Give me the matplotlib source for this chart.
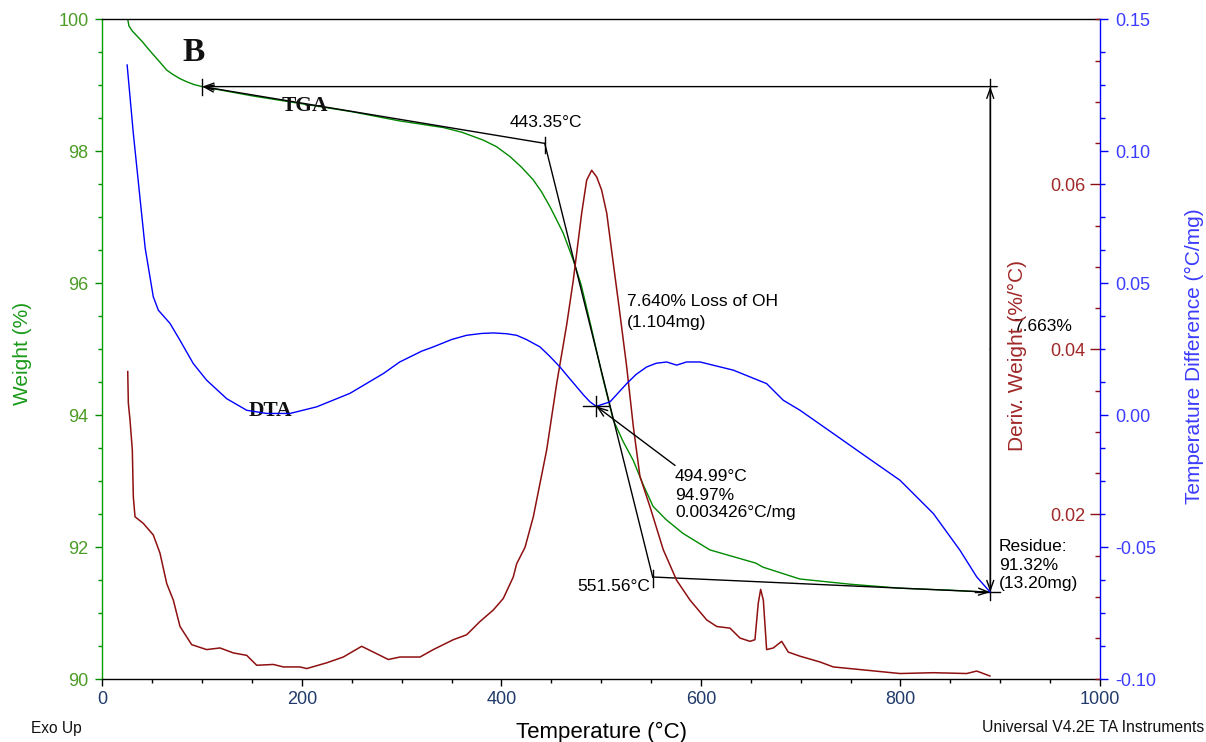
import matplotlib
matplotlib.use("Agg")
import matplotlib.pyplot as plt
from matplotlib.ticker import MultipleLocator, FixedLocator, FormatStrFormatter

# ---- TGA: weight (%) vs temperature (°C)
tga_temp = [25.3, 26.5, 30, 35, 40, 44.3, 50, 57, 64.4, 70, 77.7, 85, 92, 100,
            150, 200, 250, 298, 341.6, 360, 381.6, 395, 408.5, 420, 431.7, 440,
            448.6, 455, 461.9, 472, 480, 490, 501, 512, 522, 532, 542, 552,
            565, 582, 609, 632, 655, 662, 699, 750, 800, 850, 888]
tga_weight = [100.0, 99.90, 99.82, 99.74, 99.66, 99.58, 99.48, 99.36, 99.23,
              99.17, 99.10, 99.05, 99.01, 98.98, 98.84, 98.72, 98.60, 98.46,
              98.36, 98.29, 98.17, 98.07, 97.92, 97.76, 97.57, 97.39, 97.16,
              96.97, 96.76, 96.35, 95.97, 95.33, 94.60, 93.93, 93.60, 93.32,
              92.95, 92.62, 92.42, 92.21, 91.96, 91.86, 91.76, 91.70, 91.52,
              91.44, 91.38, 91.35, 91.32]

# ---- DTA: temperature difference (°C/mg)
dta_temp = [24.7, 30.9, 37.8, 42.8, 50.9, 56, 67.7, 77.7, 91, 104.4, 124.5,
            144.6, 164.6, 188, 214.7, 248, 281.5, 298, 320, 331.6, 350, 365,
            380, 391.8, 405, 415.2, 425, 438.6, 448, 458.6, 467, 475.3, 482,
            488.7, 495, 508.8, 525.5, 535, 545.5, 555, 565.6, 575.6, 585.6,
            599, 632.4, 665.8, 682.5, 699.3, 732.6, 766.1, 799.5, 832.9, 859.6,
            876.4, 889.7]
dta_diff = [0.1327, 0.1068, 0.0815, 0.0633, 0.0449, 0.0398, 0.0348, 0.0284,
            0.0196, 0.0133, 0.0063, 0.0019, 0.0007, 0.0007, 0.0032, 0.0083,
            0.0158, 0.0202, 0.0243, 0.0259, 0.0287, 0.0303, 0.0310, 0.0312,
            0.0309, 0.0303, 0.0287, 0.0259, 0.0225, 0.0183, 0.0145, 0.0108,
            0.0078, 0.0051, 0.0034, 0.0051, 0.0120, 0.0155, 0.0183, 0.0197,
            0.0202, 0.0190, 0.0202, 0.0202, 0.0171, 0.0120, 0.0057, 0.0019,
            -0.0069, -0.0158, -0.0246, -0.0372, -0.0511, -0.0612, -0.0669]

# ---- DTG: derivative weight (%/°C)
dtg_temp = [25.3, 25.9, 27.6, 29.9, 30.9, 32.6, 40.9, 50.9, 57.6, 64.4, 71,
            77.7, 89.4, 104.4, 117.8, 131.1, 144.6, 154.6, 171.2, 181.3, 198,
            204.7, 224.8, 241.4, 259.8, 274.9, 286.5, 298.2, 318.3, 331.6,
            351.7, 365.1, 378.4, 391.8, 401.8, 411.8, 415.2, 423.6, 431.9,
            445.3, 455.4, 465.4, 472, 480.4, 485.4, 490.4, 495.4, 500.4, 505.5,
            512.1, 518, 525.5, 532.2, 538.8, 548.9, 562.2, 575.6, 589, 605.7,
            615.8, 629.1, 639.1, 649.1, 654.1, 657.4, 659.8, 662.5, 665.8,
            672.5, 680.9, 687.5, 699.3, 719.3, 732.6, 766.1, 799.5, 832.9,
            866.4, 876.4, 889.7]
dtg_deriv = [0.0373, 0.0335, 0.0314, 0.0278, 0.0221, 0.0197, 0.0189, 0.0175,
             0.0153, 0.0116, 0.0096, 0.0064, 0.0042, 0.0036, 0.0038, 0.0032,
             0.0029, 0.0017, 0.0018, 0.0015, 0.0015, 0.0013, 0.0020, 0.0027,
             0.0040, 0.0031, 0.0024, 0.0027, 0.0027, 0.0036, 0.0048, 0.0054,
             0.0070, 0.0084, 0.0098, 0.0124, 0.0140, 0.0160, 0.0197, 0.0278,
             0.0359, 0.0430, 0.0484, 0.0565, 0.0605, 0.0617, 0.0609, 0.0593,
             0.0565, 0.0504, 0.0450, 0.0379, 0.0306, 0.0246, 0.0209, 0.0157,
             0.0120, 0.0096, 0.0072, 0.0064, 0.0062, 0.0050, 0.0046, 0.0048,
             0.0092, 0.0109, 0.0096, 0.0036, 0.0038, 0.0046, 0.0033, 0.0028,
             0.0021, 0.0015, 0.0011, 0.0007, 0.0008, 0.0007, 0.0010, 0.0004]

# ---- analysis results
onset_temp, onset_weight = 443.35, 98.12
end_temp, end_weight = 551.56, 91.55
start_temp, start_weight = 100.0, 98.98
residue_temp, residue_weight = 890.0, 91.32
dta_mark_temp, dta_mark_value = 494.99, 0.003426

plt.rcParams["font.family"] = ["Liberation Sans", "DejaVu Sans"]
plt.rcParams["axes.unicode_minus"] = False

GREEN = "#008a00"
GREEN_TXT = "#4c9c28"
RED = "#8e1010"
RED_TXT = "#a02828"
BLUE = "#0000ff"
BLUE_TXT = "#3c3cff"
XTXT = "#203a6a"

fig = plt.figure(figsize=(12.06, 7.42), dpi=100)
ax = fig.add_axes([0.08499, 0.0845, 0.8271, 0.8895])
ax2 = ax.twinx()
ax3 = ax.twinx()

# weight axis
ax.plot(tga_temp, tga_weight, color=GREEN, lw=1.0)
ax.set_xlim(0, 1000)
ax.set_ylim(90, 100)
ax.xaxis.set_major_locator(MultipleLocator(200))
ax.xaxis.set_minor_locator(MultipleLocator(50))
ax.yaxis.set_major_locator(MultipleLocator(2))
ax.yaxis.set_minor_locator(MultipleLocator(0.5))
ax.tick_params(axis="x", which="major", direction="out", length=5, width=1,
               color="black", labelcolor=XTXT, labelsize=13, pad=3.5)
ax.tick_params(axis="x", which="minor", direction="out", length=3, width=1,
               color="black")
ax.tick_params(axis="y", which="major", direction="out", length=5, width=1,
               color=GREEN, labelcolor=GREEN_TXT, labelsize=13, pad=5)
ax.tick_params(axis="y", which="minor", direction="out", length=3, width=1,
               color=GREEN)
for s in ("top", "bottom"):
    ax.spines[s].set_color("black")
    ax.spines[s].set_linewidth(1.0)
ax.spines["left"].set_color("#00a000")
ax.spines["left"].set_linewidth(1.0)
ax.spines["right"].set_visible(False)
ax.set_xlabel("Temperature (°C)", fontsize=16, color="black", labelpad=10)
ax.set_ylabel("Weight (%)", fontsize=15, color="#1a9a1a")
ax.yaxis.set_label_coords(-0.071, 0.494)

# derivative weight axis (labels inside the plot, along the right edge)
ax2.plot(dtg_temp, dtg_deriv, color=RED, lw=1.1)
ax2.set_ylim(0, 0.08)
ax2.yaxis.tick_left()
ax2.yaxis.set_label_position("left")
for s in ax2.spines.values():
    s.set_visible(False)
ax2.spines["left"].set_position(("axes", 1.0))
ax2.yaxis.set_major_locator(FixedLocator([0.02, 0.04, 0.06]))
ax2.yaxis.set_minor_locator(MultipleLocator(0.005))
ax2.yaxis.set_major_formatter(FormatStrFormatter("%.2f"))
ax2.tick_params(axis="y", which="major", direction="out", length=7, width=1,
                color=RED, labelcolor=RED_TXT, labelsize=13, pad=3.6)
ax2.tick_params(axis="y", which="minor", direction="out", length=3.6,
                width=1, color=RED)
ax2.set_ylabel("Deriv. Weight (%/°C)", fontsize=15, color=RED_TXT)
ax2.yaxis.set_label_coords(0.927, 0.491)

# temperature difference axis
ax3.plot(dta_temp, dta_diff, color=BLUE, lw=1.0)
ax3.set_ylim(-0.10, 0.15)
for s in ("top", "bottom", "left"):
    ax3.spines[s].set_visible(False)
ax3.spines["right"].set_color(BLUE)
ax3.spines["right"].set_linewidth(1.0)
ax3.yaxis.set_major_locator(MultipleLocator(0.05))
ax3.yaxis.set_minor_locator(MultipleLocator(0.0125))
ax3.yaxis.set_major_formatter(FormatStrFormatter("%.2f"))
ax3.tick_params(axis="y", which="major", direction="out", length=5.8,
                width=1, color=BLUE, labelcolor=BLUE_TXT, labelsize=13, pad=5)
ax3.tick_params(axis="y", which="minor", direction="out", length=3.6,
                width=1, color=BLUE)
ax3.set_ylabel("Temperature Difference (°C/mg)", fontsize=15, color=BLUE_TXT)
ax3.yaxis.set_label_coords(1.0852, 0.49)

# ---- step analysis construction lines
LC = "black"
arrow = dict(arrowstyle="->,head_length=0.7,head_width=0.25", lw=1.0,
             color=LC, shrinkA=0, shrinkB=0)
ax.annotate("", xy=(start_temp, start_weight), xytext=(897, start_weight),
            arrowprops=arrow)
ax.annotate("", xy=(start_temp, start_weight),
            xytext=(onset_temp, onset_weight), arrowprops=arrow)
ax.plot([onset_temp, end_temp], [onset_weight, end_weight], color=LC, lw=1.0)
ax.annotate("", xy=(residue_temp, residue_weight),
            xytext=(end_temp, end_weight), arrowprops=arrow)
ax.plot([residue_temp, residue_temp], [99.09, 91.20], color=LC, lw=1.0)
ax.annotate("", xy=(residue_temp, start_weight), xytext=(residue_temp, 95.0),
            arrowprops=arrow)
ax.annotate("", xy=(residue_temp, residue_weight), xytext=(residue_temp, 95.0),
            arrowprops=arrow)
ax.plot([875, 900], [residue_weight, residue_weight], color=LC, lw=1.0)
ax.plot([start_temp, start_temp], [start_weight + 0.12, start_weight - 0.12],
        color=LC, lw=1.0)
ax.plot([onset_temp, onset_temp], [onset_weight + 0.10, onset_weight - 0.15],
        color=LC, lw=1.0)
ax.plot([end_temp, end_temp], [end_weight + 0.10, end_weight - 0.15],
        color=LC, lw=1.0)

# DTA point marker
ax3.plot([dta_mark_temp - 13, dta_mark_temp + 13],
         [dta_mark_value, dta_mark_value], color=LC, lw=1.0)
ax3.plot([dta_mark_temp, dta_mark_temp],
         [dta_mark_value - 0.0038, dta_mark_value + 0.0038], color=LC, lw=1.0)
ax3.annotate("", xy=(dta_mark_temp, dta_mark_value), xytext=(574, -0.019),
             arrowprops=arrow)

# ---- annotation text
AT = 12.5
ax.text(444.6, 98.43, "443.35°C", fontsize=AT, ha="center", va="center")
for y, s in zip([95.72, 95.40], ["7.640% Loss of OH", "(1.104mg)"]):
    ax.text(525.5, y, s, fontsize=AT, ha="left", va="center")
for y, s in zip([93.08, 92.79, 92.52],
                ["494.99°C", "94.97%", "0.003426°C/mg"]):
    ax.text(574, y, s, fontsize=AT, ha="left", va="center")
ax.text(548.9, 91.40, "551.56°C", fontsize=AT, ha="right", va="center")
for y, s in zip([92.01, 91.73, 91.45], ["Residue:", "91.32%", "(13.20mg)"]):
    ax.text(898.8, y, s, fontsize=AT, ha="left", va="center")
ax.text(912.8, 95.35, "7.663%", fontsize=AT, ha="left", va="center")

serif = ["Liberation Serif", "DejaVu Serif"]
ax.text(203, 98.68, "TGA", fontsize=15.5, family=serif, weight="bold",
        ha="center", va="center", color="#111111")
ax.text(168, 94.07, "DTA", fontsize=15.5, family=serif, weight="bold",
        ha="center", va="center", color="#111111")
ax.text(91, 99.49, "B", fontsize=24, family=serif, weight="bold",
        ha="center", va="center", color="#111111")

fig.text(31 / 1206, 1 - 728 / 742, "Exo Up", fontsize=11.2, ha="left",
         va="center", color="#111111")
fig.text(1204 / 1206, 1 - 727 / 742, "Universal V4.2E TA Instruments",
         fontsize=11.3, ha="right", va="center", color="#111111")

fig.savefig("out.png", dpi=100)
